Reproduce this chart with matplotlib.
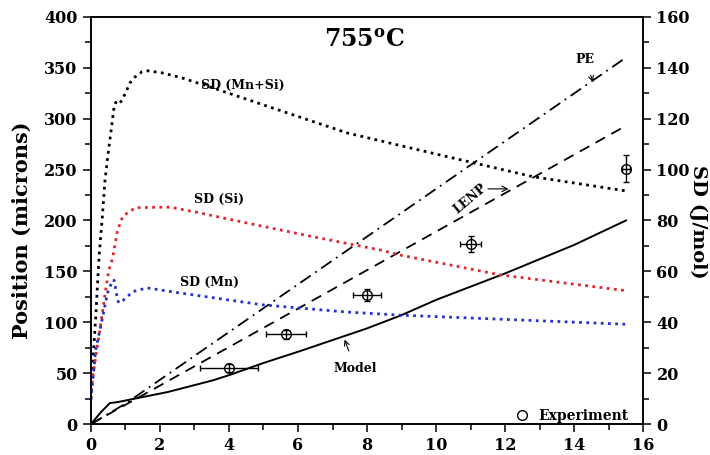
import numpy as np
import matplotlib.pyplot as plt

plt.rcParams['font.family'] = 'DejaVu Serif'
plt.rcParams['font.weight'] = 'bold'
plt.rcParams['mathtext.fontset'] = 'dejavuserif'

# SD curves (J/mol, right axis)
mnsi_x = [0, 0.03, 0.14, 0.24, 0.34, 0.41, 0.5, 0.6, 0.67, 0.72, 0.8, 0.9, 1.0, 1.13, 1.28, 1.48, 1.65, 2.06, 2.64, 3.55, 5.48, 7.42, 9.9, 12.8, 15.5]
mnsi_sd = [10, 18.4, 42, 66.4, 82.8, 96, 106.4, 116.8, 124.4, 126.4, 125.6, 127.2, 130, 134, 136.4, 138.4, 138.8, 138, 136, 132, 123.2, 114.4, 106.4, 97.2, 91.6]

si_x = [0, 0.14, 0.29, 0.43, 0.52, 0.63, 0.77, 0.92, 1.1, 1.3, 2.0, 2.3, 3.07, 4.52, 6.43, 8.38, 8.96, 11.86, 15.5]
si_sd = [13.2, 26.4, 39.6, 52.8, 60.4, 65.2, 76, 81.5, 83.4, 85, 85.2, 85.2, 83.2, 79, 73.6, 68.4, 66.4, 58.6, 52.4]

mn_x = [0, 0.14, 0.34, 0.48, 0.63, 0.68, 0.77, 0.81, 0.95, 1.21, 1.62, 2.58, 5.0, 7.42, 8.96, 11.86, 15.5]
mn_sd = [9.4, 29.2, 42, 51.4, 56.6, 56.4, 48.8, 47.6, 48.8, 52, 53.5, 51.5, 46.8, 44, 42.8, 41.2, 39.2]

# position curves (microns, left axis)
model_x = [0, 0.3, 0.55, 0.78, 1.07, 2.23, 3.54, 4, 5, 6, 7, 8, 9, 10, 12, 14, 15.5]
model_pos = [0, 12, 20.6, 21.6, 23.6, 31.5, 43, 48, 60, 71, 82.5, 94, 107, 122, 148, 176, 200]

pe_x = [0, 1, 15.5]
pe_pos = [0, 20, 360]

lenp_x = [0, 15.5]
lenp_pos = [0, 293]

# experiment
exp_x = [4, 5.65, 8, 11, 15.5]
exp_pos = [55, 88, 127, 177, 251]
exp_xerr = [0.85, 0.57, 0.4, 0.3, 0.12]
exp_yerr = [4, 4, 6, 8, 13]

fig = plt.figure(figsize=(7.1, 4.55), dpi=100)
ax = fig.add_axes([0.128, 0.068, 0.778, 0.895])
ax2 = ax.twinx()

ax.plot(model_x, model_pos, 'k-', lw=1.4)
ax.plot(pe_x, pe_pos, color='k', lw=1.3, dashes=(7, 3, 1, 3))
ax.plot(lenp_x, lenp_pos, color='k', lw=1.3, dashes=(6, 4))
ax.errorbar(exp_x, exp_pos, xerr=exp_xerr, yerr=exp_yerr, fmt='none', ecolor='k', elinewidth=1, capsize=2.5)
ax.plot(exp_x, exp_pos, 'o', mfc='none', mec='k', ms=7, mew=1, label='Experiment')

ax2.plot(mnsi_x, mnsi_sd, color='k', lw=2, linestyle=(0, (1, 1.6)))
ax2.plot(si_x, si_sd, color='#e0262a', lw=2, linestyle=(0, (1, 1.6)))
ax2.plot(mn_x, mn_sd, color='#2232d0', lw=2, linestyle=(0, (1, 1.6)))

ax.set_xlim(0, 16)
ax.set_ylim(0, 400)
ax2.set_ylim(0, 160)
ax.set_xticks(np.arange(0, 17, 2))
ax.set_xticks(np.arange(1, 16, 2), minor=True)
ax.set_yticks(np.arange(0, 401, 50))
ax.set_yticks(np.arange(25, 400, 50), minor=True)
ax2.set_yticks(np.arange(0, 161, 20))
ax2.set_yticks(np.arange(10, 160, 20), minor=True)

for a in (ax, ax2):
    a.tick_params(which='major', direction='out', length=6, width=1.1, labelsize=11.5)
    a.tick_params(which='minor', direction='out', length=4, width=1.1)
    for s in a.spines.values():
        s.set_linewidth(1.2)

fig.text(22 / 710, 1 - 230 / 455, 'Position (microns)', rotation=90, ha='center', va='center',
         fontsize=15, fontweight='bold')
fig.text(698 / 710, 1 - 222 / 455, 'SD (J/mol)', rotation=270, ha='center', va='center',
         fontsize=14, fontweight='bold')

ax.text(0.496, 0.943, r'755$^{\mathbf{o}}$C', transform=ax.transAxes, ha='center', va='center', fontsize=17, fontweight='bold')

ax.text(4.4, 333, 'SD (Mn+Si)', ha='center', va='center', fontsize=9)
ax.text(3.7, 221, 'SD (Si)', ha='center', va='center', fontsize=9)
ax.text(3.45, 139, 'SD (Mn)', ha='center', va='center', fontsize=9)

ax.annotate('Model', xy=(7.35, 83), xytext=(7.65, 55), ha='center', va='center', fontsize=9,
            arrowprops=dict(arrowstyle='->', color='k', lw=0.8, shrinkA=6, shrinkB=0))
ax.annotate('PE', xy=(14.55, 336), xytext=(14.3, 358), ha='center', va='center', fontsize=9,
            arrowprops=dict(arrowstyle='->', color='k', lw=0.8, shrinkA=5, shrinkB=0))
ax.text(10.99, 221, 'LENP', ha='center', va='center', fontsize=9, rotation=40)
ax.annotate('', xy=(12.1, 231), xytext=(11.5, 231),
            arrowprops=dict(arrowstyle='->', color='k', lw=0.8, shrinkA=0, shrinkB=0))

ax.legend(loc='lower right', bbox_to_anchor=(0.984, -0.01), frameon=False, fontsize=10,
          handletextpad=0.6, borderaxespad=0, handlelength=1.2)

fig.savefig('out.png', dpi=100)
